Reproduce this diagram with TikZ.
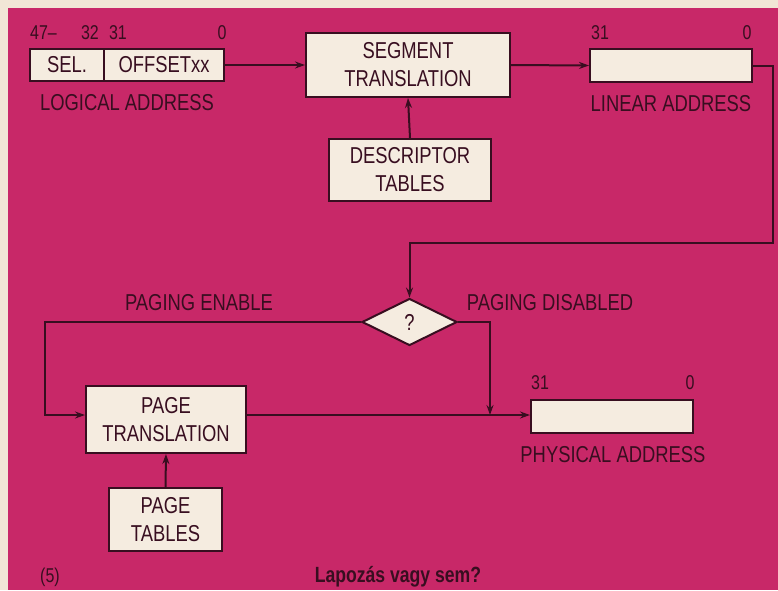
\documentclass[tikz,border=0pt]{standalone}
\usepackage{fontspec}
\setmainfont{Liberation Sans}[FakeStretch=0.8]
\usetikzlibrary{shapes.geometric,arrows.meta}
\definecolor{bgmag}{HTML}{C82868}
\definecolor{paper}{HTML}{F1E6D6}
\definecolor{boxfill}{HTML}{F5ECE0}
\definecolor{ink}{HTML}{380E20}
\tikzset{
  box/.style={draw=ink, fill=boxfill, line width=2pt, inner sep=0pt, align=center,
    text=ink, font=\fontsize{23}{28}\selectfont},
  lbl/.style={text=ink, inner sep=0pt, font=\fontsize{23}{27}\selectfont},
  num/.style={text=ink, inner sep=0pt, font=\fontsize{20}{24}\selectfont},
  conn/.style={draw=ink, line width=2pt},
  arr/.style={conn, -{Stealth[length=10pt,width=7pt]}}
}
\begin{document}
\begin{tikzpicture}[x=1pt,y=-1pt]
\useasboundingbox (0,0) rectangle (778,590);
\fill[paper] (0,0) rectangle (778,590);
\fill[bgmag] (8,8) rectangle (778,590);

% logical address
\node[box, minimum width=74pt, minimum height=32pt] (sel) at (67,65) {SEL.};
\node[box, minimum width=120pt, minimum height=32pt] (off) at (164,65) {OFFSETxx};
\node[num, anchor=west] (n47) at (30,33) {47–};
\node[num] (n32) at (90,33) {32};
\node[num] (n31a) at (118,33) {31};
\node[num] (n0a) at (222,33) {0};
\node[lbl] (la) at (127,103) {LOGICAL ADDRESS};

% segment translation
\node[box, minimum width=204pt, minimum height=64pt] (seg) at (408,65) {SEGMENT\\TRANSLATION};
\node[box, minimum width=162pt, minimum height=62pt] (desc) at (410,170) {DESCRIPTOR\\TABLES};

% linear address
\node[box, minimum width=162pt, minimum height=33pt] (lin) at (671,65.5) {};
\node[num] (n31b) at (600,33) {31};
\node[num] (n0b) at (747,33) {0};
\node[lbl] (lina) at (671,104) {LINEAR ADDRESS};

% decision
\node[box, diamond, minimum width=95pt, minimum height=47pt] (dia) at (409.5,322) {?};
\node[lbl] (pe) at (199,303) {PAGING ENABLE};
\node[lbl] (pd) at (550,303) {PAGING DISABLED};

% page translation
\node[box, minimum width=160pt, minimum height=67pt] (pt) at (166,419.5) {PAGE\\TRANSLATION};
\node[box, minimum width=113pt, minimum height=63pt] (ptab) at (165.5,519.5) {PAGE\\TABLES};

% physical address
\node[box, minimum width=162pt, minimum height=33pt] (phys) at (612,416) {};
\node[num] (n31c) at (540,383) {31};
\node[num] (n0c) at (690,383) {0};
\node[lbl] (pha) at (613,455) {PHYSICAL ADDRESS};

% captions
\node[num] (fig) at (50,577) {(5)};
\node[text=ink, inner sep=0pt, font=\fontsize{22}{26}\selectfont\bfseries] (cap) at (398,577) {Lapozás vagy sem?};

% coordinates
\coordinate (rtop) at (773,65.5);
\coordinate (rbot) at (773,243);
\coordinate (lturn) at (45,322);
\coordinate (lbot) at (45,415);
\coordinate (dturn) at (490,322);
\coordinate (junc) at (490,415);

% connectors
\draw[arr] (off.east) -- (seg.west);
\draw[arr] (seg.east) -- (lin.west);
\draw[arr] (desc.north) -- (seg.south);
\draw[arr] (lin.east) -- (rtop) -- (rbot) -- (rbot -| dia.north) -- (dia.north);
\draw[arr] (dia.west) -- (lturn) -- (lbot) -- (lbot -| pt.west);
\draw[arr] (pt.east |- lbot) -- (phys.west |- lbot);
\draw[arr] (dia.east) -- (dturn) -- (junc);
\draw[arr] (ptab.north) -- (pt.south);
\end{tikzpicture}
\end{document}
